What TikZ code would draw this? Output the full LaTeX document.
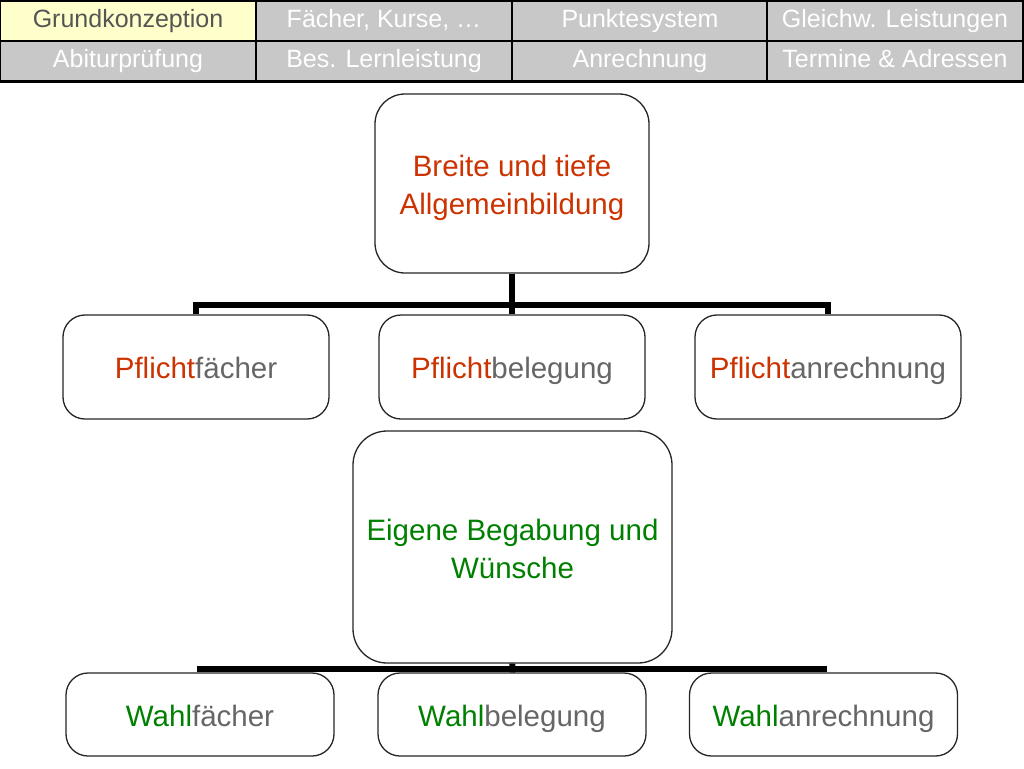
\documentclass[tikz,border=0pt]{standalone}
\usepackage{fontspec}
\setmainfont{Liberation Sans}
\definecolor{pred}{RGB}{204,51,0}
\definecolor{wgreen}{RGB}{0,128,0}
\definecolor{tgray}{RGB}{102,102,102}
\definecolor{cellgray}{RGB}{200,200,200}
\definecolor{cellyellow}{RGB}{255,255,204}
\definecolor{hdtext}{RGB}{85,85,85}
\tikzset{
  cell/.style={draw=black, line width=1.2pt, fill=cellgray, text=white, minimum width=256pt, minimum height=40pt, inner sep=0pt, text height=18pt, text depth=5pt, font=\fontsize{25}{28}\selectfont},
  cellsel/.style={cell, fill=cellyellow, text=hdtext},
  box/.style={draw=black!85, line width=1.3pt, rounded corners=22pt, fill=white, inner sep=2pt, align=center, font=\fontsize{29.5}{38}\selectfont},
  small/.style={box, minimum width=266pt, minimum height=104pt, text height=23pt, text depth=0pt},
  wsmall/.style={box, minimum width=268pt, minimum height=83pt, text height=23pt, text depth=0pt},
  bar/.style={line width=6pt, black}
}
\begin{document}
\begin{tikzpicture}[x=1pt,y=-1pt]
\useasboundingbox (0,0) rectangle (1024,768);
\fill[white] (0,0) rectangle (1024,768);
% header
\node[cellsel] (h1) at (128,21) {Grundkonzeption};
\node[cell] (h2) at (384,21) {Fächer, Kurse, …};
\node[cell] (h3) at (640,21) {Punktesystem};
\node[cell] (h4) at (895,21) {Gleichw. Leistungen};
\node[cell] (h5) at (128,61) {Abiturprüfung};
\node[cell] (h6) at (384,61) {Bes. Lernleistung};
\node[cell] (h7) at (640,61) {Anrechnung};
\node[cell] (h8) at (895,61) {Termine \& Adressen};
\draw[line width=3pt] (h5.south west) -- (h8.south east);
% top tree
\node[box, minimum width=274pt, minimum height=179pt, rounded corners=30pt, text=pred] (top) at (512,183.5) {\rule{0pt}{31pt}Breite und tiefe\\Allgemeinbildung};
\node[small] (pf) at (196,367) {\textcolor{pred}{Pflicht}\textcolor{tgray}{fächer}};
\node[small] (pb) at (512,367) {\textcolor{pred}{Pflicht}\textcolor{tgray}{belegung}};
\node[small] (pa) at (828,367) {\textcolor{pred}{Pflicht}\textcolor{tgray}{anrechnung}};
\coordinate (j1) at (512,305);
\draw[bar] (pf.north) |- (j1) -| (pa.north);
\draw[bar] (top.south) -- (pb.north);
% bottom tree
\node[box, minimum width=319pt, minimum height=232pt, rounded corners=34pt, text=wgreen] (mid) at (512.5,547) {\rule{0pt}{25pt}Eigene Begabung und\\Wünsche};
\node[wsmall] (wf) at (200,714.5) {\textcolor{wgreen}{Wahl}\textcolor{tgray}{fächer}};
\node[wsmall] (wb) at (512,714.5) {\textcolor{wgreen}{Wahl}\textcolor{tgray}{belegung}};
\node[wsmall] (wa) at (823.5,714.5) {\textcolor{wgreen}{Wahl}\textcolor{tgray}{anrechnung}};
\coordinate (j2) at (512,669);
\draw[bar] (wf.north) |- (j2) -| (wa.north);
\draw[bar] (mid.south) -- (wb.north);
\end{tikzpicture}
\end{document}
